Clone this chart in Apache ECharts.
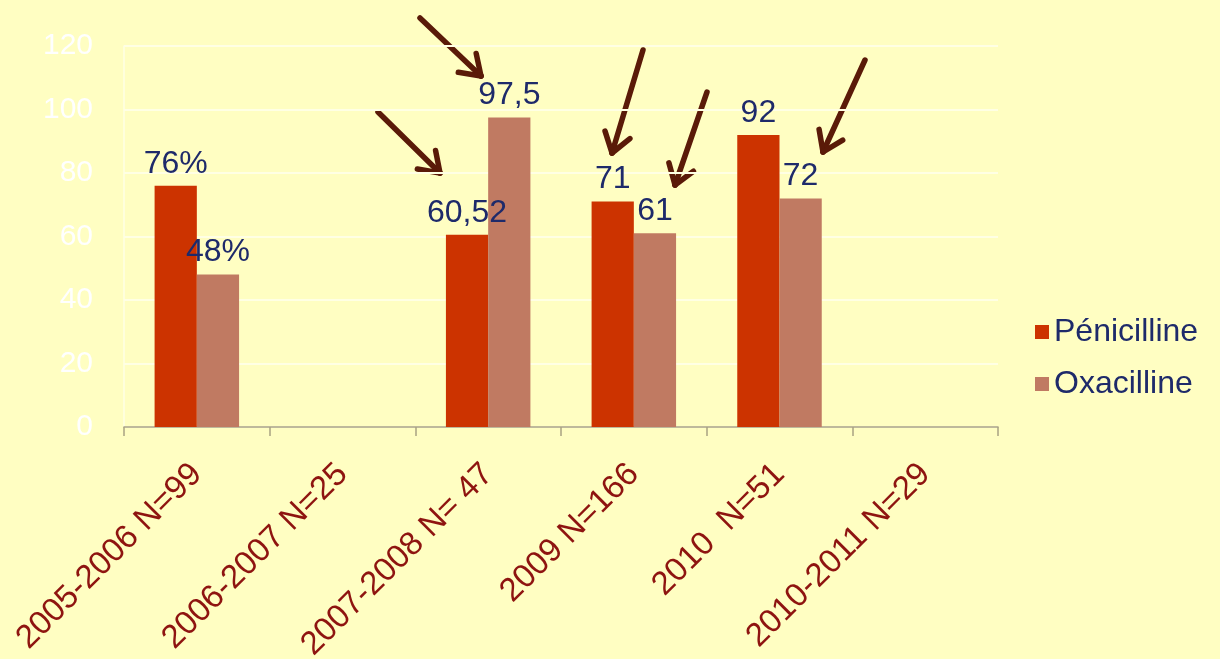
<!DOCTYPE html>
<html>
<head>
    <meta charset="utf-8"/>
    <title>Pénicilline / Oxacilline</title>
    <script src="https://cdn.jsdelivr.net/npm/echarts@6/dist/echarts.min.js"></script>
    <style>
        html, body {margin: 0; padding: 0; background: #FFFEC2;}
        #chart {width: 1220px; height: 659px;}
    </style>
</head>
<body>
<div id="chart"></div>
<script>
    var categories = ['2005-2006 N=99', '2006-2007 N=25', '2007-2008 N= 47', '2009 N=166', '2010  N=51', '2010-2011 N=29'];
    var penicilline = [76, null, 60.52, 71, 92, null];
    var oxacilline = [48, null, 97.5, 61, 72, null];
    // étiquettes telles qu'écrites sur la diapo
    var penLabels = ['76%', '', '60,52', '71', '92', ''];
    var oxaLabels = ['48%', '', '97,5', '61', '72', ''];
    var yTicks = [0, 20, 40, 60, 80, 100, 120];

    // flèches : [queue x, queue y, pointe x, pointe y]
    var arrows = [
        [420, 18, 481, 76],
        [378, 112, 440, 173],
        [643, 50, 612, 153],
        [707, 92, 675, 185],
        [865, 60, 823, 152]
    ];

    function arrowShapes(a) {
        var dx = a[0] - a[2], dy = a[1] - a[3];
        var len = Math.sqrt(dx * dx + dy * dy);
        var ux = dx / len, uy = dy / len;
        var out = [{
            type: 'line',
            shape: {x1: a[0], y1: a[1], x2: a[2], y2: a[3]},
            style: {stroke: '#5A1A08', lineWidth: 5.5, lineCap: 'round'}
        }];
        [-0.6, 0.6].forEach(function (t) {
            var c = Math.cos(t), s = Math.sin(t);
            var hx = ux * c - uy * s, hy = ux * s + uy * c;
            out.push({
                type: 'line',
                shape: {x1: a[2], y1: a[3], x2: a[2] + hx * 23, y2: a[3] + hy * 23},
                style: {stroke: '#5A1A08', lineWidth: 5.5, lineCap: 'round'}
            });
        });
        return out;
    }

    var graphics = [];
    arrows.forEach(function (a) {
        graphics = graphics.concat(arrowShapes(a));
    });

    var labelStyle = {
        show: true,
        position: 'top',
        distance: 6,
        color: '#1E2A6A',
        fontSize: 32,
        fontFamily: 'Liberation Sans, Arial, sans-serif'
    };

    var myChart = echarts.init(document.getElementById('chart'));
    var option = {
        backgroundColor: '#FFFEC2',
        animation: false,
        grid: {left: 124, right: 222, top: 46, bottom: 232, containLabel: false, outerBoundsMode: 'none'},
        legend: {
            orient: 'vertical',
            left: 1030,
            top: 311,
            itemWidth: 14,
            itemHeight: 14,
            itemGap: 20,
            icon: 'rect',
            textStyle: {color: '#1E2A6A', fontSize: 32, fontFamily: 'Liberation Sans, Arial, sans-serif'},
            data: ['Pénicilline', 'Oxacilline']
        },
        xAxis: {
            type: 'category',
            data: categories,
            axisLine: {lineStyle: {color: '#A9A282', width: 1.5}},
            axisTick: {show: true, length: 9, lineStyle: {color: '#A9A282', width: 1.5}},
            axisLabel: {
                interval: 0,
                rotate: 45,
                margin: 42,
                color: '#8E1410',
                fontSize: 33,
                fontFamily: 'Liberation Sans, Arial, sans-serif'
            }
        },
        yAxis: {
            type: 'value',
            min: 0,
            max: 120,
            interval: 20,
            axisLine: {show: true, lineStyle: {color: '#FFFFE4', width: 1.5}},
            axisTick: {show: false},
            splitLine: {lineStyle: {color: '#FFFFE4', width: 2}},
            axisLabel: {
                margin: 31,
                color: '#FFFFFF',
                fontSize: 30,
                fontFamily: 'Liberation Sans, Arial, sans-serif',
                formatter: function (v) {
                    return yTicks.indexOf(v) >= 0 ? String(v) : '';
                }
            }
        },
        series: [{
            name: 'Pénicilline',
            type: 'bar',
            barGap: 0,
            barCategoryGap: '42%',
            itemStyle: {color: '#CC3300'},
            label: Object.assign({}, labelStyle, {
                formatter: function (p) { return penLabels[p.dataIndex]; }
            }),
            data: penicilline
        }, {
            name: 'Oxacilline',
            type: 'bar',
            itemStyle: {color: '#C07A62'},
            label: Object.assign({}, labelStyle, {
                formatter: function (p) { return oxaLabels[p.dataIndex]; }
            }),
            data: oxacilline
        }],
        graphic: graphics
    };
    myChart.setOption(option);
</script>
</body>
</html>
